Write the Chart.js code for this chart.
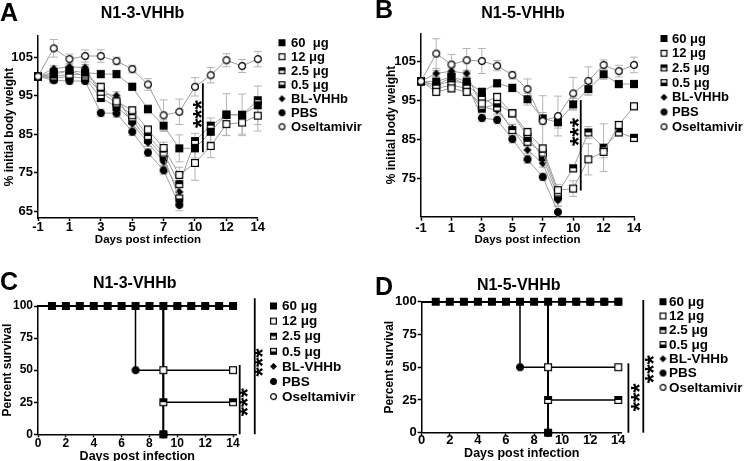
<!DOCTYPE html>
<html>
<head>
<meta charset="utf-8">
<script src="https://cdn.jsdelivr.net/npm/chart.js@4.4.0/dist/chart.umd.min.js"></script>
<style>
  html, body { margin: 0; padding: 0; background: #fff; overflow: hidden; }
  #wrap { position: relative; width: 750px; height: 461px; }
  #wrap canvas { position: absolute; left: 0; top: 0; }
</style>
</head>
<body>
<div id="wrap">
  <canvas id="chartA" width="750" height="461"></canvas>
  <canvas id="chartB" width="750" height="461"></canvas>
  <canvas id="chartC" width="750" height="461"></canvas>
  <canvas id="chartD" width="750" height="461"></canvas>
</div>
<script>
const FONT = '"Liberation Sans", Arial, Helvetica, sans-serif';

const groups = ['60 μg', '12 μg', '2.5 μg', '0.5 μg', 'BL-VHHb', 'PBS', 'Oseltamivir'];
const dayLabels = ['-1', '0', '1', '2', '3', '4', '5', '6', '7', '8', '10', '11', '12', '13', '14'];
const weightTicksA = [65, 75, 85, 95, 105];
const weightTicksB = [75, 85, 95, 105];
const survTicks = [0, 25, 50, 75, 100];
const survDayTicks = [0, 2, 4, 6, 8, 10, 12, 14];

// N1-3-VHHb, % initial body weight (mean)
const a60   = [100, 100.5, 101.5, 101.0, 100.6, 100.6, 97.3, 91.5, 87.2, 81.3, 81.3, 85.6, 90.1, 90.0, 92.5];
const a12   = [100, 100.0, 100.5, 100.5, 97.3, 93.5, 91.2, 86.2, 81.4, 74.4, 77.5, 81.9, 87.6, 88.0, 89.8];
const a25   = [100, 101.0, 101.5, 100.0, 96.0, 93.0, 89.9, 84.5, 80.2, 72.0, 83.2, 87.2, 90.0, 90.0, 93.8];
const a05   = [100, 99.5, 100.0, 99.5, 94.4, 92.1, 88.6, 83.6, 79.1, 68.3, null, null, null, null, null];
const aBL   = [100, 102.0, 102.5, 102.3, 95.5, 95.0, 87.7, 82.8, 77.8, 70.0, null, null, null, null, null];
const aPBS  = [100, 99.0, 98.8, 98.8, 90.5, 90.4, 85.6, 80.2, 75.6, 66.6, null, null, null, null, null];
const aOsel = [100, 107.3, 104.5, 105.3, 105.3, 104.0, 101.9, 97.9, 89.9, 90.8, 97.3, 100.3, 104.2, 102.7, 104.5];

// N1-3-VHHb, SD
const a60Sd   = [0, 1, 1, 1, 1, 1, 1, 1.2, 1.5, 3.5, 2.5, 2.5, 5.4, 5.4, 5];
const a12Sd   = [0, 1, 1, 1, 1, 1, 1, 1, 1.5, 2, 4.5, 3, 3, 3, 4];
const a25Sd   = [0, 1, 1, 1, 1, 1, 1, 1, 1, 2, 2, 2, 1, 1, 1];
const a05Sd   = [0, 0.8, 0.8, 0.8, 1, 1, 1, 1, 1, 1.5, null, null, null, null, null];
const aBLSd   = [0, 0.8, 0.8, 0.8, 1, 1, 1, 1, 1, 1.5, null, null, null, null, null];
const aPBSSd  = [0, 0.8, 0.8, 0.8, 1, 1, 1, 1, 1, 1.5, null, null, null, null, null];
const aOselSd = [0, 2.3, 1.3, 1.6, 1.6, 1, 1, 1.5, 4, 3.3, 2.4, 2, 1.7, 1.7, 2];

// N1-5-VHHb, % initial body weight (mean)
const b60   = [100, 99.9, 101.2, 99.9, 97.3, 99.5, 98.3, 95.4, 90.5, 89.5, 94.1, 98.0, 101.8, 99.3, 99.3];
const b12   = [100, 97.3, 98.2, 97.3, 94.3, 96.0, 91.8, 87.0, 82.8, 72.1, 72.5, 80.0, 81.9, 88.8, 93.6];
const b25   = [100, 99.0, 101.0, 99.0, 96.0, 93.3, 87.5, 84.5, 81.7, 71.5, 77.7, 86.9, 83.0, 86.9, 85.5];
const b05   = [100, 98.2, 99.0, 98.2, 93.0, 94.3, 91.8, 85.8, 80.6, 70.5, null, null, null, null, null];
const bBL   = [100, 102.0, 102.6, 102.0, 93.5, 92.6, 87.9, 82.4, 79.0, 69.5, null, null, null, null, null];
const bPBS  = [100, 99.0, 100.0, 99.5, 90.6, 90.1, 85.2, 80.0, 75.5, 66.5, null, null, null, null, null];
const bOsel = [100, 107.1, 104.3, 105.4, 105.2, 104.0, 101.6, 98.0, 89.8, 91.1, 96.9, 100.1, 104.2, 102.6, 104.2];

// N1-5-VHHb, SD
const b60Sd   = [0, 1, 1, 1, 1, 1, 1, 1.5, 1.5, 1.5, 1.5, 1.5, 1.3, 1, 1];
const b12Sd   = [0, 1, 1, 1, 1, 1, 1, 1, 1, 1.5, 2, 4, 1.5, 1, 1];
const b25Sd   = [0, 1, 1, 1, 1, 1, 1.5, 1, 1, 1, 1, 1.5, 6.1, 1, 1];
const b05Sd   = [0, 0.8, 0.8, 0.8, 1, 1, 1, 1, 1, 1.5, null, null, null, null, null];
const bBLSd   = [0, 0.8, 0.8, 0.8, 1, 1, 1, 1, 1, 1.5, null, null, null, null, null];
const bPBSSd  = [0, 0.8, 0.8, 0.8, 1, 1, 1, 1, 1, 1.5, null, null, null, null, null];
const bOselSd = [0, 3.8, 2.6, 3, 3.2, 1.3, 1, 2.6, 6.5, 5.1, 4.1, 3.6, 1.3, 1.5, 2];

// survival, N1-3-VHHb (day, percent)
const c60Days = [0, 1, 2, 3, 4, 5, 6, 7, 8, 9, 10, 11, 12, 13, 14];
const c60Pct  = [100, 100, 100, 100, 100, 100, 100, 100, 100, 100, 100, 100, 100, 100, 100];
const c12Days = [0, 9, 14];
const c12Pct  = [100, 50, 50];
const c25Days = [0, 9, 14];
const c25Pct  = [100, 25, 25];
const c05Days = [0, 9];
const c05Pct  = [100, 0];
const cBLDays = [0, 9];
const cBLPct  = [100, 0];
const cPBSDays = [0, 7, 9];
const cPBSPct  = [100, 50, 0];
const cOselDays = [0, 10, 11, 12, 13, 14];
const cOselPct  = [100, 100, 100, 100, 100, 100];

// survival, N1-5-VHHb (day, percent)
const d60Days = [0, 1, 2, 3, 4, 5, 6, 7, 8, 9, 10, 11, 12, 13, 14];
const d60Pct  = [100, 100, 100, 100, 100, 100, 100, 100, 100, 100, 100, 100, 100, 100, 100];
const d12Days = [0, 9, 14];
const d12Pct  = [100, 50, 50];
const d25Days = [0, 9, 14];
const d25Pct  = [100, 25, 25];
const d05Days = [0, 9];
const d05Pct  = [100, 0];
const dBLDays = [0, 9];
const dBLPct  = [100, 0];
const dPBSDays = [0, 7, 9];
const dPBSPct  = [100, 50, 0];
const dOselDays = [0, 10, 11, 12, 13, 14];
const dOselPct  = [100, 100, 100, 100, 100, 100];

Chart.defaults.font.family = FONT;
Chart.defaults.font.weight = 'bold';
Chart.defaults.color = '#000';

// small marker images (GraphPad-like symbols)
function marker(kind, s) {
  const c = document.createElement('canvas');
  c.width = c.height = s + 2;
  const g = c.getContext('2d');
  const o = 1, m = 1 + s / 2;
  g.strokeStyle = '#000';
  g.lineWidth = 1.2;
  if (kind === 'dot' || kind === 'ring') {
    g.beginPath();
    g.arc(m, m, s / 2 - 0.6, 0, 2 * Math.PI);
    g.fillStyle = kind === 'dot' ? '#000' : '#fff';
    g.fill();
    g.stroke();
  } else if (kind === 'diamond') {
    g.beginPath();
    g.moveTo(m, o); g.lineTo(o + s, m); g.lineTo(m, o + s); g.lineTo(o, m);
    g.closePath();
    g.fillStyle = '#000';
    g.fill();
  } else {
    g.fillStyle = kind === 'sqFill' ? '#000' : '#fff';
    g.fillRect(o, o, s, s);
    g.fillStyle = '#000';
    if (kind === 'sqTop') g.fillRect(o, o, s, s / 2);
    if (kind === 'sqBot') g.fillRect(o, o + s / 2, s, s / 2);
    g.strokeRect(o + 0.6, o + 0.6, s - 1.2, s - 1.2);
  }
  return c;
}

const symbolKinds = ['sqFill', 'sqOpen', 'sqTop', 'sqBot', 'diamond', 'dot', 'ring'];
const survKinds = ['sqFill', 'sqOpen', 'sqTop', 'sqFill', 'diamond', 'dot', 'dot'];
const weightIcons = symbolKinds.map(k => marker(k, 8));
const survIcons = survKinds.map(k => marker(k, 8));
const legendIcons = symbolKinds.map(k => marker(k, 7));
const weightOrder = [1, 2, 3, 4, 5, 6, 0];
const survOrder = [1, 2, 3, 4, 5, 6, 0];

// panel letter, title, significance marks, legend, error bars
function decor(cfg) {
  return {
    id: 'decor',
    beforeDatasetsDraw(chart) {
      const ys = chart.scales.y, ctx = chart.ctx;
      ctx.save();
      ctx.strokeStyle = '#b4b4b4';
      ctx.lineWidth = 1;
      chart.data.datasets.forEach((ds, i) => {
        if (!ds.sd) return;
        chart.getDatasetMeta(i).data.forEach((pt, k) => {
          const v = ds.data[k], e = ds.sd[k];
          if (v == null || !e) return;
          const y1 = ys.getPixelForValue(v + e), y2 = ys.getPixelForValue(v - e);
          ctx.beginPath();
          ctx.moveTo(pt.x, y1); ctx.lineTo(pt.x, y2);
          ctx.moveTo(pt.x - 4, y1); ctx.lineTo(pt.x + 4, y1);
          ctx.moveTo(pt.x - 4, y2); ctx.lineTo(pt.x + 4, y2);
          ctx.stroke();
        });
      });
      ctx.restore();
    },
    afterDraw(chart) {
      const ctx = chart.ctx, xs = chart.scales.x, ys = chart.scales.y;
      ctx.save();
      ctx.fillStyle = '#000';
      ctx.strokeStyle = '#000';
      ctx.textBaseline = 'alphabetic';
      ctx.textAlign = 'left';
      ctx.font = `bold 25px ${FONT}`;
      ctx.fillText(cfg.letter[0], cfg.letter[1], cfg.letter[2]);
      ctx.textAlign = 'center';
      ctx.font = `bold 16px ${FONT}`;
      ctx.fillText(cfg.title[0], cfg.title[1], cfg.title[2]);

      ctx.lineWidth = 1.8;
      cfg.bars.forEach(([x, a, b]) => {
        const px = xs.getPixelForValue(x);
        ctx.beginPath();
        ctx.moveTo(px, ys.getPixelForValue(a));
        ctx.lineTo(px, ys.getPixelForValue(b));
        ctx.stroke();
      });
      ctx.font = `bold 24px ${FONT}`;
      cfg.stars.forEach(([x, v]) => {
        ctx.save();
        ctx.translate(xs.getPixelForValue(x), ys.getPixelForValue(v));
        ctx.rotate(-Math.PI / 2);
        ctx.textAlign = 'center';
        ctx.textBaseline = 'middle';
        ctx.fillText('***', 0, 5);
        ctx.restore();
      });

      const L = cfg.legend;
      ctx.font = `bold ${L.size}px ${FONT}`;
      ctx.textAlign = 'left';
      ctx.textBaseline = 'middle';
      L.labels.forEach((t, i) => {
        const yy = L.y + i * L.step;
        const img = legendIcons[i];
        ctx.drawImage(img, L.x - img.width / 2, yy - img.height / 2);
        ctx.fillText(t, L.tx, yy + 0.5);
      });
      ctx.restore();
    }
  };
}

function axisStyle(tickLength) {
  return {
    grid: { drawOnChartArea: false, tickLength: tickLength, color: '#000', tickWidth: 1.5 },
    border: { color: '#000', width: 1.5 }
  };
}

function baseOptions(cfg) {
  const ar = cfg.area;
  return {
    animation: false,
    responsive: false,
    events: [],
    layout: {
      padding: { left: ar.left - ar.yw, top: ar.top, right: 750 - ar.right, bottom: 461 - ar.bottom - ar.xh }
    },
    plugins: { legend: { display: false }, tooltip: { enabled: false } }
  };
}

function weightChart(id, cfg) {
  const ar = cfg.area;
  const opts = baseOptions(cfg);
  opts.scales = {
    x: {
      type: 'category',
      offset: false,
      ...axisStyle(ar.xtl),
      afterFit: s => { s.height = ar.xh; },
      afterBuildTicks: s => { s.ticks = s.ticks.filter(t => t.value % 2 === 0); },
      ticks: { autoSkip: false, maxRotation: 0, padding: ar.xtp, font: { size: 13, lineHeight: 1 } },
      title: { display: true, text: 'Days post infection', font: { size: 11.5, lineHeight: 1 }, padding: { top: 0, bottom: ar.xtb } }
    },
    y: {
      min: cfg.yMin,
      max: cfg.yMax,
      ...axisStyle(4),
      afterFit: s => { s.width = ar.yw; },
      afterBuildTicks: s => { s.ticks = cfg.yTicks.map(v => ({ value: v })); },
      ticks: { padding: 1, font: { size: 13, lineHeight: 1 } },
      title: { display: true, text: '% initial body weight', font: { size: 12, lineHeight: 1 }, padding: { top: ar.ytp, bottom: 0 } }
    }
  };
  return new Chart(document.getElementById(id), {
    type: 'line',
    data: {
      labels: dayLabels,
      datasets: cfg.series.map((vals, i) => ({
        label: groups[i],
        data: vals,
        sd: cfg.sd[i],
        borderColor: '#9c9c9c',
        borderWidth: 1,
        tension: 0,
        pointStyle: weightIcons[i],
        pointRadius: 4,
        order: weightOrder[i],
        clip: false
      }))
    },
    options: opts,
    plugins: [decor(cfg)]
  });
}

function survivalChart(id, cfg) {
  const ar = cfg.area;
  const opts = baseOptions(cfg);
  opts.scales = {
    x: {
      type: 'linear',
      min: 0,
      max: 14.25,
      ...axisStyle(ar.xtl),
      afterFit: s => { s.height = ar.xh; },
      afterBuildTicks: s => { s.ticks = survDayTicks.map(v => ({ value: v })); },
      ticks: { padding: ar.xtp, font: { size: cfg.tickSize, lineHeight: 1 } },
      title: { display: true, text: 'Days post infection', font: { size: 12.5, lineHeight: 1 }, padding: { top: 0, bottom: ar.xtb } }
    },
    y: {
      min: 0,
      max: 100,
      ...axisStyle(4),
      afterFit: s => { s.width = ar.yw; },
      afterBuildTicks: s => { s.ticks = survTicks.map(v => ({ value: v })); },
      ticks: { padding: 1, font: { size: cfg.tickSize, lineHeight: 1 } },
      title: { display: true, text: 'Percent survival', font: { size: 12, lineHeight: 1 }, padding: { top: ar.ytp, bottom: 0 } }
    }
  };
  return new Chart(document.getElementById(id), {
    type: 'line',
    data: {
      datasets: cfg.days.map((days, i) => ({
        label: groups[i],
        data: days.map((d, k) => ({ x: d, y: cfg.pct[i][k] })),
        stepped: 'before',
        borderColor: '#000',
        borderWidth: 1.5,
        pointStyle: survIcons[i],
        pointRadius: ctx => (ctx.raw && ctx.raw.x === 0 ? 0 : 4),
        order: survOrder[i],
        clip: false
      }))
    },
    options: opts,
    plugins: [decor(cfg)]
  });
}

const legendLabels = ['60 μg', '12 μg', '2.5 μg', '0.5 μg', 'BL-VHHb', 'PBS', 'Oseltamivir'];

weightChart('chartA', {
  series: [a60, a12, a25, a05, aBL, aPBS, aOsel],
  sd: [a60Sd, a12Sd, a25Sd, a05Sd, aBLSd, aPBSSd, aOselSd],
  yMin: 63.2, yMax: 110.5, yTicks: weightTicksA,
  area: { left: 38, top: 36, right: 257.8, bottom: 218, yw: 38, xh: 28, xtl: 3, xtp: 0, xtb: 0, ytp: 3.3 },
  letter: ['A', 0, 20.7],
  title: ['N1-3-VHHb', 142.5, 18.3],
  bars: [[10.5, 80.3, 98.2]],
  stars: [[10.2, 90.2]],
  legend: { x: 282, tx: 291, y: 42.7, step: 14, size: 13, labels: ['60  μg', '12 μg', '2.5 μg', '0.5 μg', 'BL-VHHb', 'PBS', 'Oseltamivir'] }
});

weightChart('chartB', {
  series: [b60, b12, b25, b05, bBL, bPBS, bOsel],
  sd: [b60Sd, b12Sd, b25Sd, b05Sd, bBLSd, bPBSSd, bOselSd],
  yMin: 65.3, yMax: 112.3, yTicks: weightTicksB,
  area: { left: 421, top: 33.3, right: 634, bottom: 216.7, yw: 46, xh: 29, xtl: 4, xtp: 1, xtb: 0, ytp: 10.7 },
  letter: ['B', 375, 18.3],
  title: ['N1-5-VHHb', 523, 18.3],
  bars: [[10.5, 72, 95.2]],
  stars: [[10.15, 87]],
  legend: { x: 664, tx: 672, y: 38.5, step: 14.7, size: 13, labels: legendLabels }
});

survivalChart('chartC', {
  days: [c60Days, c12Days, c25Days, c05Days, cBLDays, cPBSDays, cOselDays],
  pct: [c60Pct, c12Pct, c25Pct, c05Pct, cBLPct, cPBSPct, cOselPct],
  tickSize: 12,
  area: { left: 38, top: 306, right: 236.5, bottom: 434.3, yw: 38, xh: 26.7, xtl: 3, xtp: 0, xtb: -2, ytp: 1.3 },
  letter: ['C', 0, 290],
  title: ['N1-3-VHHb', 134.7, 288],
  bars: [[15.56, 0, 106], [14.48, 0, 54]],
  stars: [[15.9, 56], [14.84, 25]],
  legend: { x: 273.5, tx: 282, y: 306, step: 15.1, size: 13.5, labels: legendLabels }
});

survivalChart('chartD', {
  days: [d60Days, d12Days, d25Days, d05Days, dBLDays, dPBSDays, dOselDays],
  pct: [d60Pct, d12Pct, d25Pct, d05Pct, dBLPct, dPBSPct, dOselPct],
  tickSize: 13,
  area: { left: 421.7, top: 301.7, right: 621.8, bottom: 432.7, yw: 46.7, xh: 28.3, xtl: 3, xtp: -2, xtb: 0.75, ytp: 9 },
  letter: ['D', 375, 295],
  title: ['N1-5-VHHb', 518.7, 290],
  bars: [[15.78, 0, 101.3], [14.72, 0, 53]],
  stars: [[16.26, 48.5], [15.26, 27]],
  legend: { x: 663, tx: 669, y: 301.7, step: 14.27, size: 13.5, labels: legendLabels }
});
</script>
</body>
</html>
